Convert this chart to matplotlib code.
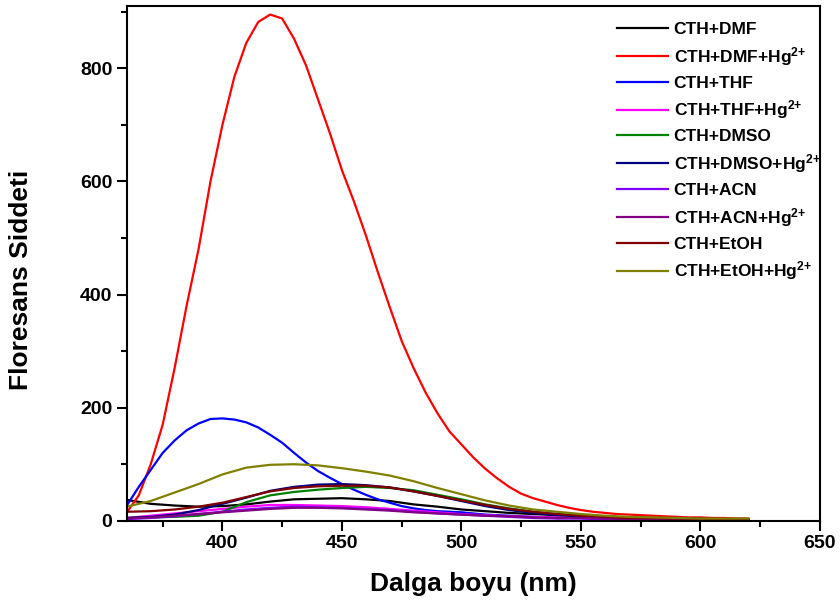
import numpy as np
import matplotlib.pyplot as plt

plt.rcParams['font.family'] = ['Liberation Sans', 'DejaVu Sans']
plt.rcParams['font.weight'] = 'bold'
plt.rcParams['mathtext.fontset'] = 'custom'
plt.rcParams['mathtext.bf'] = 'Liberation Sans:bold'
plt.rcParams['mathtext.rm'] = 'Liberation Sans:bold'
plt.rcParams['mathtext.default'] = 'bf'

# wavelength grids (nm)
wl5 = np.arange(360, 625, 5)
wl10 = np.arange(360, 630, 10)

# CTH+DMF+Hg2+ (5 nm)
dmf_hg = [15, 45, 100, 170, 270, 380, 480, 600, 700, 785, 845, 882, 895, 888, 852,
          805, 745, 685, 620, 565, 505, 440, 378, 318, 270, 227, 190, 158, 135, 112,
          92, 75, 60, 48, 40, 34, 28, 23, 19, 16, 14, 12, 11, 10, 9, 8, 7, 6, 6, 5,
          5, 4, 4]
# CTH+THF (5 nm)
thf = [27, 60, 90, 120, 142, 160, 172, 180, 181, 179, 174, 165, 152, 138, 120,
       103, 88, 76, 65, 55, 46, 38, 32, 26, 22, 19, 17, 16, 15, 13, 11, 10, 9, 8,
       7, 6, 5, 5, 5, 4, 4, 4, 3, 3, 3, 3, 3, 3, 2, 2, 2, 2, 2]

# the rest on a 10 nm grid
dmf = [37, 30, 27, 25, 26, 29, 34, 38, 39, 40, 38, 35, 29, 25, 20, 17, 14, 12,
       10, 9, 7, 6, 5, 5, 4, 4, 3]
thf_hg = [5, 9, 13, 17, 21, 25, 28, 28, 27, 26, 24, 21, 18, 15, 12, 10, 8, 7, 6,
          5, 4, 4, 3, 3, 3, 2, 2]
dmso = [5, 6, 7, 9, 16, 33, 45, 51, 55, 58, 60, 58, 54, 46, 38, 29, 22, 16, 12,
        9, 7, 5, 4, 4, 3, 3, 3]
dmso_hg = [5, 7, 11, 19, 30, 41, 53, 60, 64, 65, 63, 59, 52, 44, 35, 26, 19, 14,
           10, 8, 6, 5, 4, 4, 3, 3, 3]
acn = [3, 5, 8, 12, 16, 20, 23, 25, 24, 23, 21, 19, 16, 13, 11, 9, 7, 5, 4, 4, 3,
       3, 3, 2, 2, 2, 2]
acn_hg = [4, 6, 9, 12, 15, 18, 21, 23, 23, 22, 20, 18, 15, 13, 11, 9, 8, 6, 5, 5,
          4, 3, 3, 3, 2, 2, 2]
etoh = [16, 17, 20, 25, 32, 42, 52, 58, 61, 62, 62, 59, 52, 44, 36, 28, 21, 16,
        12, 9, 7, 5, 5, 4, 4, 3, 3]
etoh_hg = [25, 35, 50, 65, 82, 94, 99, 100, 98, 93, 87, 80, 70, 58, 47, 36, 27,
           20, 16, 12, 9, 7, 6, 5, 4, 4, 4]

labels = ['CTH+DMF', 'CTH+DMF+Hg$^{2{+}}$', 'CTH+THF', 'CTH+THF+Hg$^{2{+}}$',
          'CTH+DMSO', 'CTH+DMSO+Hg$^{2{+}}$', 'CTH+ACN', 'CTH+ACN+Hg$^{2{+}}$',
          'CTH+EtOH', 'CTH+EtOH+Hg$^{2{+}}$']
colors = ['#000000', '#FF0000', '#0000FF', '#FF00FF', '#008000', '#000080',
          '#8000FF', '#800080', '#800000', '#808000']
series = [(wl10, dmf), (wl5, dmf_hg), (wl5, thf), (wl10, thf_hg), (wl10, dmso),
          (wl10, dmso_hg), (wl10, acn), (wl10, acn_hg), (wl10, etoh), (wl10, etoh_hg)]

fig = plt.figure(figsize=(8.4, 6.07), dpi=100)
ax = fig.add_axes([0.151, 0.142, 0.825, 0.848])

for (x, y), lab, col in zip(series, labels, colors):
    ax.plot(x, y, color=col, lw=1.6, label=lab)

ax.set_xlim(360, 650)
ax.set_ylim(0, 910)
ax.set_xticks([400, 450, 500, 550, 600, 650])
ax.set_xticks(np.arange(375, 650, 25), minor=True)
ax.set_yticks([0, 200, 400, 600, 800])
ax.set_yticks([100, 300, 500, 700, 900], minor=True)
ax.tick_params(which='major', direction='out', length=7, width=1.5, labelsize=14)
ax.tick_params(which='minor', direction='out', length=4.5, width=1.5)
for sp in ax.spines.values():
    sp.set_linewidth(1.5)

ax.set_xlabel('Dalga boyu (nm)', fontsize=19, fontweight='bold', labelpad=14)
ax.set_ylabel('Floresans Siddeti', fontsize=19, fontweight='bold')
ax.yaxis.set_label_coords(-0.135, 0.468)

leg = ax.legend(loc='upper left', bbox_to_anchor=(0.69, 0.993), frameon=False,
                fontsize=12.5, handlelength=2.9, handletextpad=0.35,
                labelspacing=0.45, borderaxespad=0.3)

fig.savefig('out.png', dpi=100)
